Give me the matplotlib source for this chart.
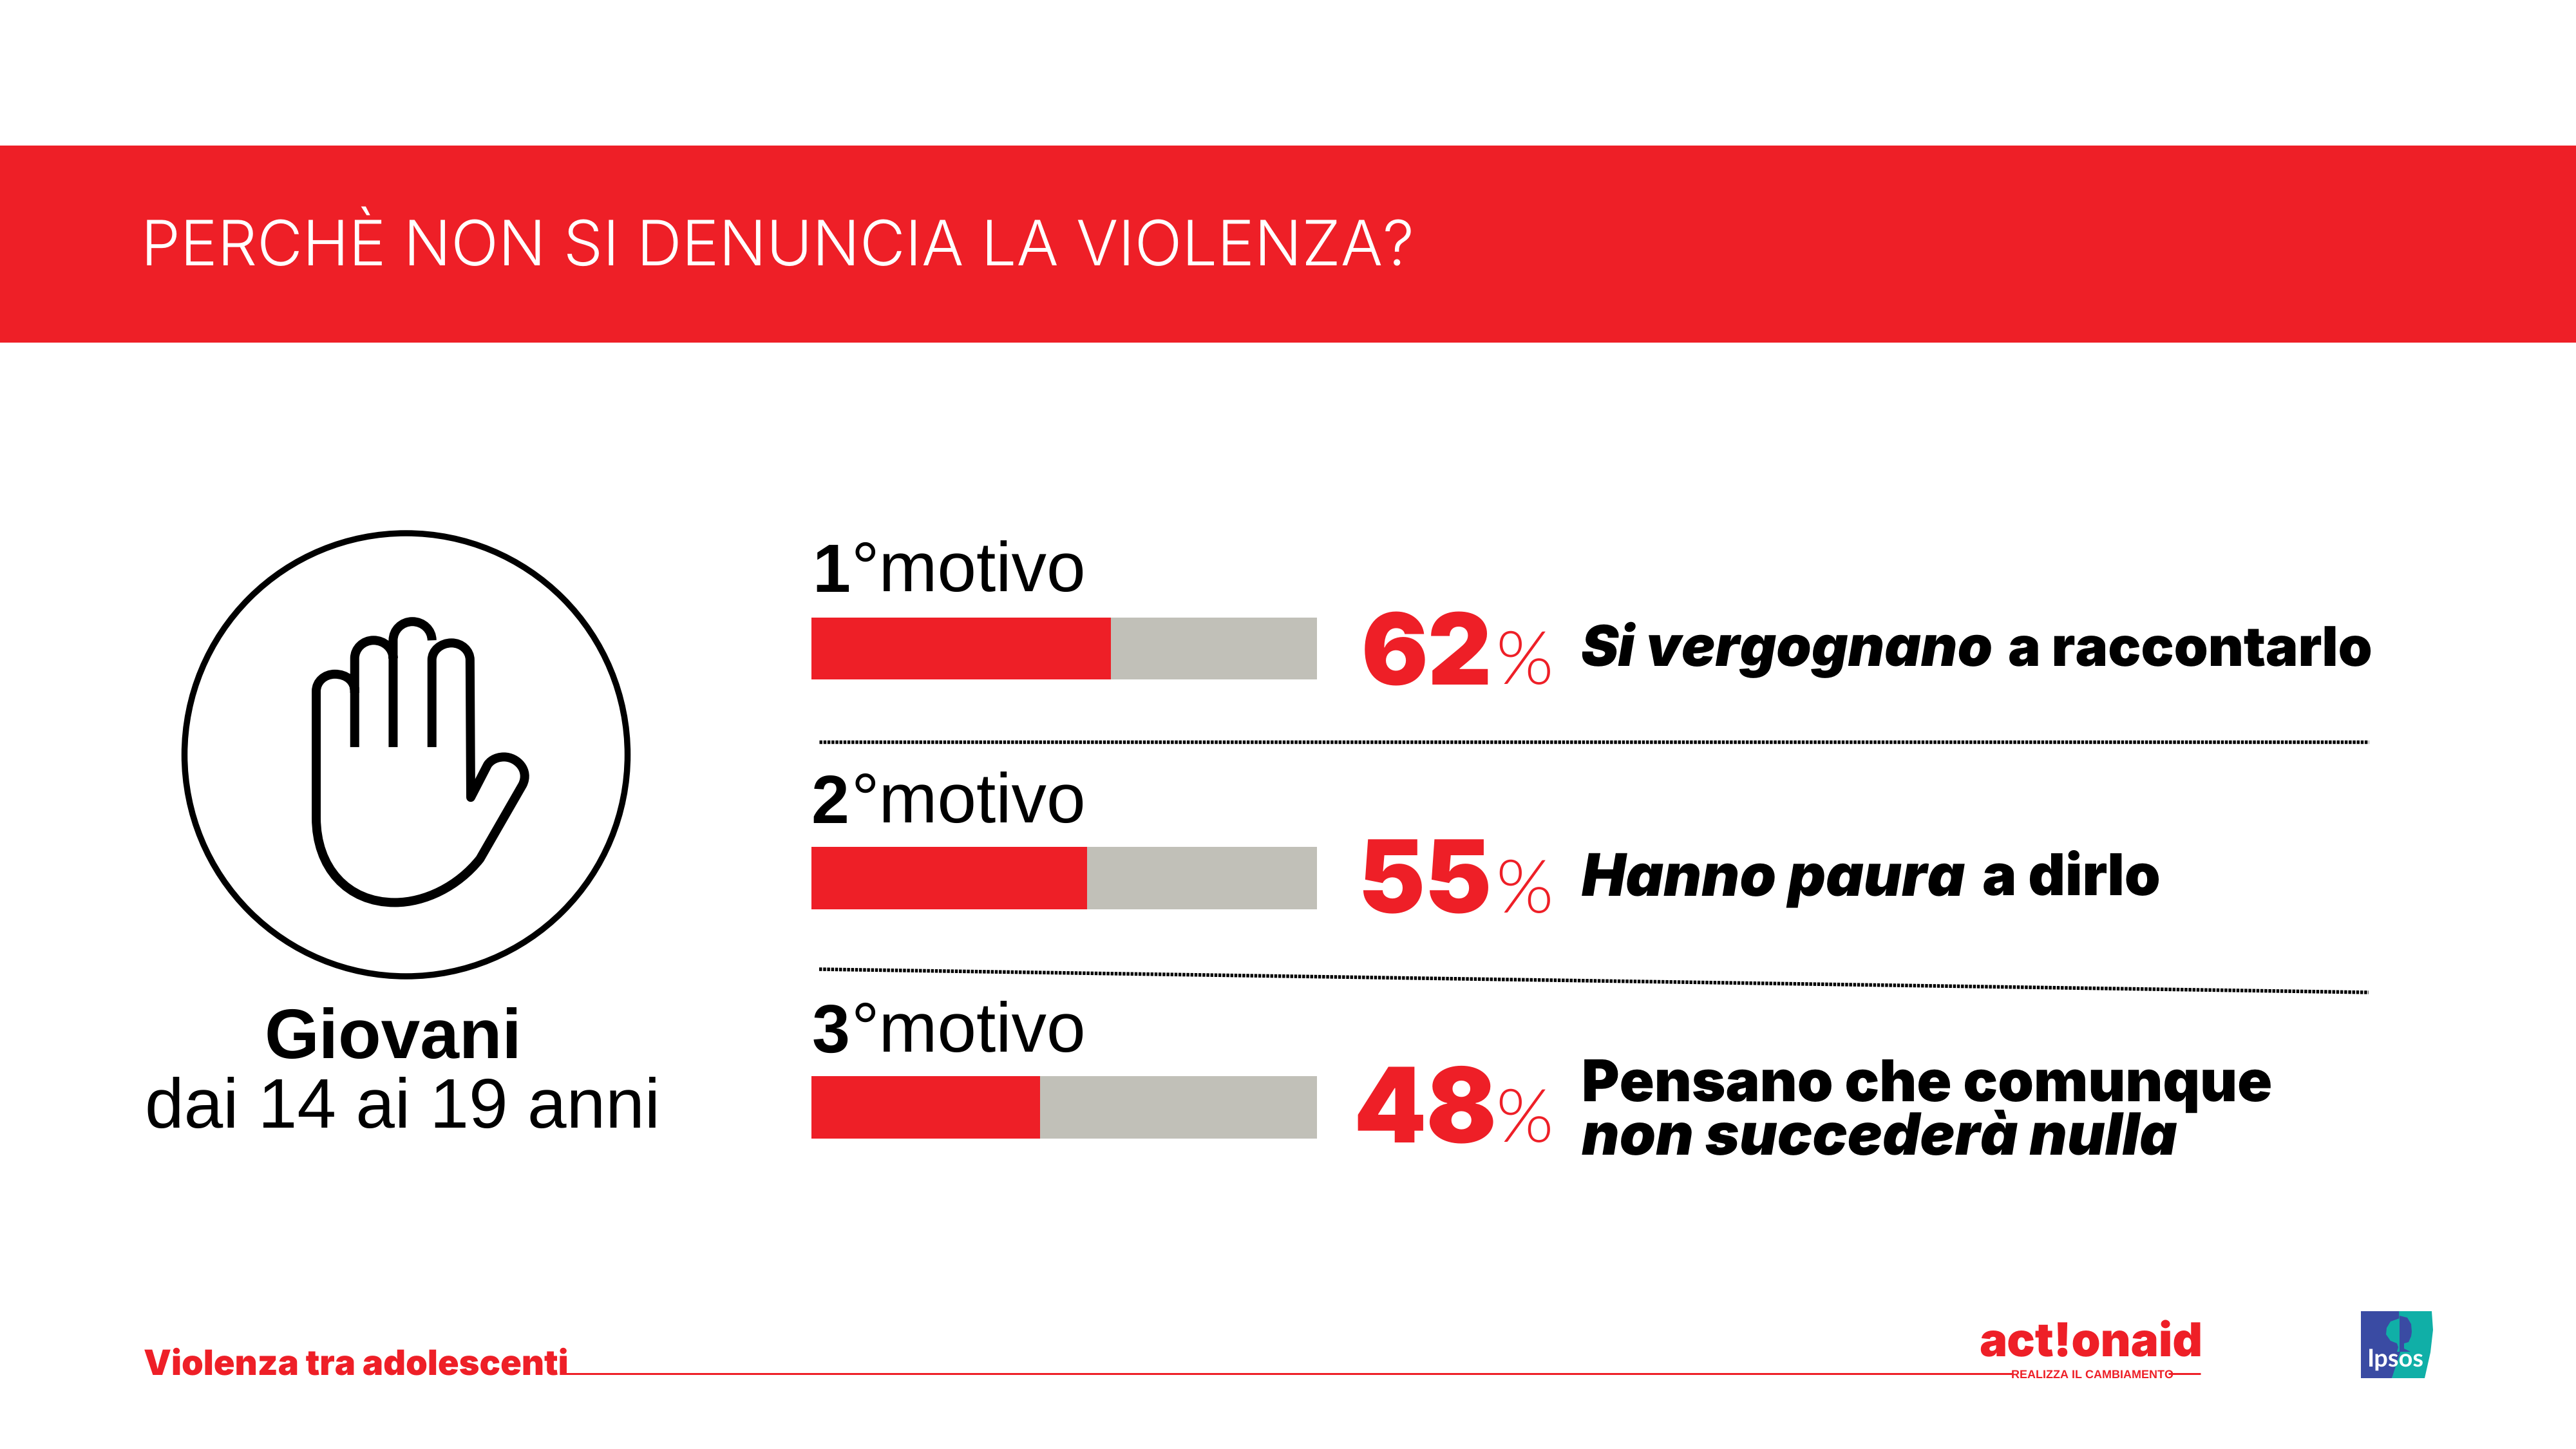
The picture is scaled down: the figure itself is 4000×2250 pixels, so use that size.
import matplotlib
matplotlib.use('Agg')
import matplotlib.pyplot as plt
from matplotlib.path import Path
from matplotlib.patches import PathPatch, Rectangle, Circle, Polygon
from matplotlib.font_manager import FontProperties
from matplotlib.textpath import TextPath

plt.rcParams['text.hinting'] = 'no_hinting'
plt.rcParams['text.hinting_factor'] = 1

# ---- data ----
ranks = ['1', '2', '3']
rank_suffix = '°motivo'
pct_labels = ['62', '55', '48']
bar_fill = [59.2, 54.5, 45.2]          # red length as drawn in the picture (% of the track)
bar_track = [100, 100, 100]
title = 'PERCHÈ NON SI DENUNCIA LA VIOLENZA?'
group_name = 'Giovani'
group_range = 'dai 14 ai 19 anni'
footer = 'Violenza tra adolescenti'

RED = '#EE1F27'
GREY = '#C1C0B8'
BLUE = '#3A4BA3'
TEAL = '#10AFA7'

W, H = 4000, 2250
DPI = 250
fig = plt.figure(figsize=(W / DPI, H / DPI), dpi=DPI, facecolor='white')
px = DPI / 72   # pixels per point

bg = fig.add_axes([0, 0, 1, 1])
bg.set_xlim(0, W)
bg.set_ylim(H, 0)
bg.axis('off')


def fit(s, x0, x1, base, family, weight='normal', style='normal', color='black', ax=bg, z=5, size=None):
    """Real text with its baseline at `base`; its ink starts at x0 and, unless a size is given, ends at x1."""
    fp = FontProperties(family=family, weight=weight, style=style)
    b = TextPath((0, 0), s, size=100, prop=fp).get_extents()
    if size is None:
        size = (x1 - x0) / (b.width / 100 * px)
    x = x0 - b.x0 / 100 * size * px
    return ax.text(x, base, s, fontproperties=fp, fontsize=size, color=color,
                   ha='left', va='baseline', zorder=z)


# ---- banner ----
bg.add_patch(Rectangle((0, 226), W, 306, fc=RED, ec='none'))
fit(title, 228, 2191, 412, 'Inter', weight=300, color='white')

# ---- icon ----
lw_hand = 14 / px
bg.add_patch(Circle((630.5, 1172), 344, fc='none', ec='black', lw=9.5 / px))


def z(X, Y):
    return (200 + X / 1.742, 780 + Y / 1.96)


K = 0.5523
verts, codes = [], []


def M(X, Y):
    verts.append(z(X, Y)); codes.append(Path.MOVETO)


def L(X, Y):
    verts.append(z(X, Y)); codes.append(Path.LINETO)


def C(a, b, c, d, e, f):
    verts.extend([z(a, b), z(c, d), z(e, f)])
    codes.extend([Path.CURVE4] * 3)


def cap(x0, y0, xm, yt, x1, y1):
    C(x0, y0 - K * (y0 - yt), xm - K * (xm - x0), yt, xm, yt)
    C(xm + K * (x1 - xm), yt, x1, y1 - K * (y1 - yt), x1, y1)


# palm outline with pinky and thumb
M(611, 745); L(611, 575)
C(611, 545, 590, 523, 557, 523)
C(530, 523, 507, 545, 507, 575)
L(507, 960)
C(507, 1110, 590, 1218, 720, 1218)
C(800, 1218, 890, 1170, 950, 1085)
L(1065, 860)
C(1085, 815, 1050, 775, 1015, 775)
C(990, 775, 975, 790, 970, 800)
L(925, 898)
L(923, 480)
cap(923, 480, 873, 428, 820, 480); L(820, 745)
M(820, 420); cap(820, 420, 767, 363, 715, 420); L(715, 745)
M(715, 475); cap(715, 475, 662, 420, 611, 475); L(611, 580)
bg.add_patch(PathPatch(Path(verts, codes), fc='none', ec='black', lw=lw_hand,
                       joinstyle='round', capstyle='butt'))

# ---- left caption ----
fit(group_name, 415, 803, 1644, 'Liberation Sans', weight='bold')
fit(group_range, 230, 1020, 1752, 'Liberation Sans')

# ---- bars ----
bar_ax = fig.add_axes([1260 / W, 1 - 1897.5 / H, 785 / W, (1897.5 - 829) / H])
bar_ax.set_xlim(0, 100)
bar_ax.set_ylim(2.5, -0.5)
bar_ax.axis('off')
rows = range(len(ranks))
bar_ax.barh(rows, bar_track, height=0.271, color=GREY, linewidth=0)
bar_ax.barh(rows, bar_fill, height=0.271, color=RED, linewidth=0)

# ---- rank headings ----
rank_base = [919, 1278, 1634]
rank_x = [1268, 1263, 1263]
for r, b, a in zip(ranks, rank_base, rank_x):
    fit(r, a, None, b, 'Liberation Sans', weight='bold', size=30.5)
    fit(rank_suffix, 1328, 1682, b, 'Liberation Sans')

# ---- percentages ----
pct_base = [1062, 1417, 1773]
pct_x = [(2119, 2311), (2116, 2311), (2108, 2319)]
for s, b, (a, c) in zip(pct_labels, pct_base, pct_x):
    fit(s, a, c, b, 'Inter', weight=900, color=RED)
    fit('%', 2328, 2406, b, 'Lato', weight=300, color=RED)

# ---- reasons ----
FONT = 'Inter'
fit('Si vergognano', 2456, 3092, 1034, FONT, weight=900, style='italic')
fit('a raccontarlo', 3120, 3681, 1034, FONT, weight=900)
fit('Hanno paura', 2456, 3051, 1390, FONT, weight=900, style='italic')
fit('a dirlo', 3080, 3352, 1390, FONT, weight=900)
fit('Pensano che comunque', 2460, 3526, 1710, FONT, weight=900)
fit('non succederà nulla', 2456, 3380, 1793, FONT, weight=900, style='italic')

# ---- dotted separators ----
dash = (0, (4.5 / 5.5, 1.7 / 5.5))
bg.plot([1272, 3678], [1152, 1152], color='black', lw=5.5 / px, ls=dash, dash_capstyle='butt')
bg.plot([1272, 3678], [1505, 1541], color='black', lw=5.5 / px, ls=dash, dash_capstyle='butt')

# ---- footer ----
fit(footer, 224, 880, 2134, FONT, weight=900, color=RED)
bg.plot([875, 3124], [2133, 2133], color=RED, lw=3 / px, solid_capstyle='butt')
bg.plot([3367, 3417], [2133, 2133], color=RED, lw=3 / px, solid_capstyle='butt')
fit('act!onaid', 3075, 3417, 2106, FONT, weight=900, color=RED)
fit('REALIZZA IL CAMBIAMENTO', 3124, 3367, 2140, 'Liberation Sans', weight='bold', color=RED)

# ---- Ipsos logo ----
bg.add_patch(Polygon([(3725, 2036), (3776, 2036), (3778, 2065), (3774, 2100), (3765, 2140), (3714, 2140)],
                     closed=True, fc=TEAL, ec='none'))
bg.add_patch(Polygon([(3666, 2036), (3725, 2036), (3727, 2100), (3714, 2140), (3666, 2140)],
                     closed=True, fc=BLUE, ec='none'))
# tree half (teal), head half (blue)
bg.add_patch(Polygon([(3726, 2047), (3712, 2052), (3706, 2062), (3705, 2072), (3712, 2082), (3722, 2086),
                      (3724, 2092), (3722, 2099), (3726, 2099)], closed=True, fc=TEAL, ec='none'))
bg.add_patch(Polygon([(3726, 2043), (3738, 2046), (3744, 2056), (3745, 2068), (3744, 2075), (3740, 2084),
                      (3733, 2086), (3733, 2094), (3743, 2099), (3726, 2099)], closed=True, fc=BLUE, ec='none'))
fit('Ipsos', 3679, 3762, 2122, 'Lato', weight=700, color='white', z=6)

fig.savefig('out.png', dpi=DPI, facecolor='white')
